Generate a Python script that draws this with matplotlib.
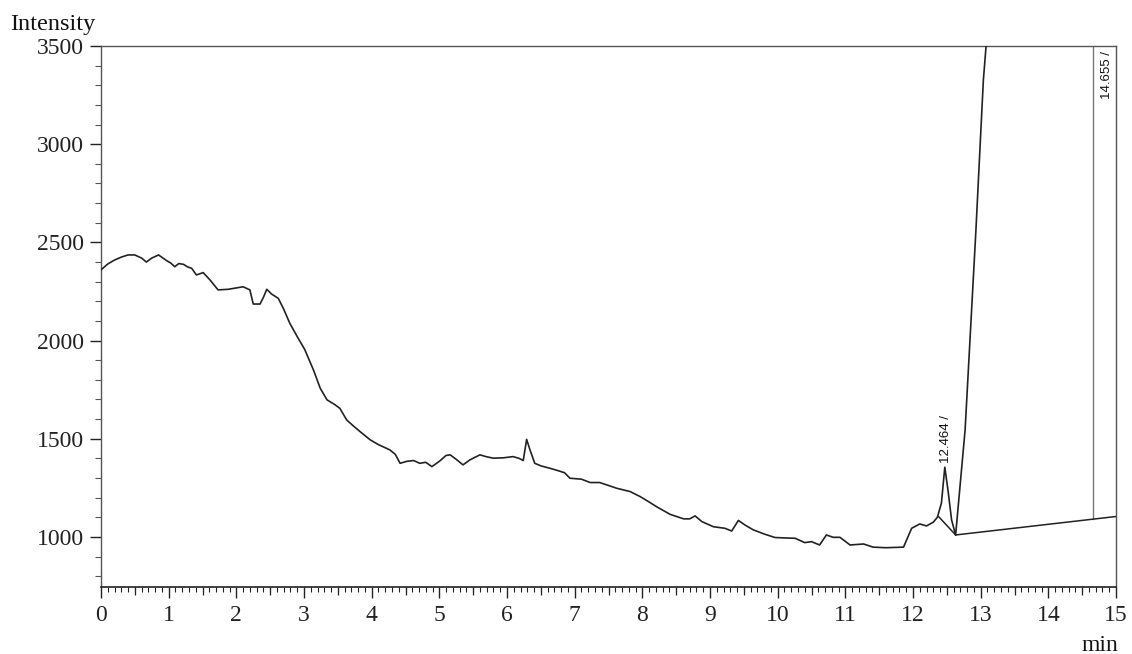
import numpy as np
import matplotlib
matplotlib.use("Agg")
import matplotlib.pyplot as plt
from matplotlib.ticker import MultipleLocator, FixedLocator

# ---- data ----
time_min = [0.00, 0.10, 0.20, 0.30, 0.40, 0.50, 0.60, 0.67, 0.75, 0.85, 0.97, 1.03, 1.09,
            1.15, 1.22, 1.28, 1.34, 1.41, 1.51, 1.61, 1.73, 1.88, 2.00, 2.10, 2.20, 2.25,
            2.35, 2.40, 2.45, 2.52, 2.62, 2.70, 2.79, 2.90, 3.01, 3.14, 3.24, 3.34, 3.45,
            3.53, 3.63, 3.73, 3.83, 3.98, 4.10, 4.27, 4.35, 4.42, 4.52, 4.62, 4.71, 4.80,
            4.89, 5.00, 5.10, 5.16, 5.25, 5.35, 5.45, 5.60, 5.70, 5.80, 5.95, 6.09, 6.18,
            6.24, 6.29, 6.34, 6.41, 6.50, 6.63, 6.75, 6.85, 6.93, 7.10, 7.23, 7.37, 7.50,
            7.62, 7.82, 7.97, 8.10, 8.21, 8.41, 8.61, 8.70, 8.78, 8.88, 9.05, 9.22, 9.32,
            9.42, 9.52, 9.64, 9.80, 9.96, 10.10, 10.26, 10.40, 10.50, 10.62, 10.72, 10.82,
            10.92, 11.07, 11.27, 11.41, 11.60, 11.86, 11.98, 12.10, 12.20, 12.30, 12.36,
            12.42, 12.47, 12.52, 12.57, 12.63, 12.77, 12.85, 12.93, 13.04, 13.08, 13.15]
intensity = [2360, 2390, 2410, 2425, 2436, 2436, 2420, 2400, 2420, 2436, 2407, 2395, 2376,
             2392, 2388, 2375, 2368, 2334, 2346, 2309, 2258, 2261, 2268, 2274, 2258, 2186,
             2186, 2220, 2261, 2237, 2215, 2160, 2088, 2020, 1955, 1850, 1757, 1698, 1675,
             1655, 1596, 1565, 1536, 1494, 1470, 1443, 1420, 1375, 1385, 1389, 1375, 1380,
             1358, 1385, 1415, 1418, 1395, 1367, 1392, 1418, 1408, 1401, 1403, 1409, 1400,
             1389, 1497, 1443, 1375, 1362, 1350, 1338, 1327, 1299, 1294, 1277, 1277, 1262,
             1248, 1231, 1205, 1178, 1154, 1115, 1092, 1092, 1107, 1078, 1052, 1044, 1030,
             1084, 1060, 1036, 1015, 997, 995, 993, 971, 976, 959, 1010, 998,
             998, 959, 964, 948, 945, 948, 1044, 1066, 1056, 1075, 1100,
             1172, 1355, 1230, 1087, 1010, 1545, 2054, 2563, 3327, 3500, 3900]

# integration baselines (time, intensity)
base1_t = [12.38, 12.63]
base1_v = [1103, 1010]
base2_t = [12.63, 15.0]
base2_v = [1010, 1104]

peak_times = [12.464, 14.655]
peak_labels = ["12.464 /", "14.655 /"]
peak_apex = [1355, 3500]

x_ticks = list(range(0, 16))
y_ticks = [1000, 1500, 2000, 2500, 3000, 3500]

# ---- figure ----
W, H = 1132, 654
fig = plt.figure(figsize=(W / 100, H / 100), dpi=100)
ax = fig.add_axes([101 / W, 1 - 587 / H, (1116 - 101) / W, (587 - 46) / H])

serif = ["Liberation Serif", "DejaVu Serif"]
ink = "#222222"
spine_c = "#555555"

ax.plot(time_min, intensity, color=ink, lw=1.2, solid_joinstyle="round", zorder=3)
ax.plot(base1_t, base1_v, color=ink, lw=1.1, zorder=3)
ax.plot(base2_t, base2_v, color=ink, lw=1.1, zorder=3)

ax.set_xlim(0, 15)
ax.set_ylim(745, 3500)

# peak marker for off-scale peak
b2 = np.interp(peak_times[1], base2_t, base2_v)
ax.plot([peak_times[1], peak_times[1]], [b2, 3500], color="#777777", lw=1.0, zorder=2)

# labels
ax.annotate(peak_labels[0], xy=(peak_times[0] + 0.02, peak_apex[0]), xytext=(0, 3),
            textcoords="offset points", rotation=90, ha="center", va="bottom",
            fontsize=9.5, family=["Liberation Sans Narrow", "Liberation Sans", "DejaVu Sans"],
            color="#111111")
ax.annotate(peak_labels[1], xy=(peak_times[1], 3500), xytext=(6, -4),
            textcoords="offset points", rotation=90, ha="left", va="top",
            fontsize=9.5, family=["Liberation Sans Narrow", "Liberation Sans", "DejaVu Sans"],
            color="#111111")

# ticks
ax.set_xticks(x_ticks)
ax.set_xticklabels([str(v) for v in x_ticks])
ax.xaxis.set_minor_locator(MultipleLocator(0.1))
ax.set_yticks(y_ticks)
ax.set_yticklabels([str(v) for v in y_ticks])
ax.yaxis.set_minor_locator(FixedLocator(list(range(800, 3500, 100))))

ax.tick_params(axis="x", which="major", direction="out", length=8, width=1.0,
               pad=5, labelsize=17, colors=ink)
ax.tick_params(axis="x", which="minor", direction="out", length=3.5, width=0.8, colors=ink)
ax.tick_params(axis="y", which="major", direction="out", length=8, width=1.0,
               pad=4, labelsize=17, colors=ink)
ax.tick_params(axis="y", which="minor", direction="out", length=4, width=0.8, colors=spine_c)
for lab in ax.get_xticklabels() + ax.get_yticklabels():
    lab.set_family(serif)

# half-minute ticks on the time axis
sec = ax.secondary_xaxis("bottom")
sec.set_xticks([v + 0.5 for v in x_ticks[:-1]])
sec.tick_params(axis="x", direction="out", length=5.5, width=0.9, labelbottom=False, colors=ink)
sec.spines["bottom"].set_visible(False)

for s in ["left", "top", "right"]:
    ax.spines[s].set_color(spine_c)
    ax.spines[s].set_linewidth(1.0)
ax.spines["bottom"].set_color(ink)
ax.spines["bottom"].set_linewidth(1.2)

fig.text(10 / W, 1 - 30 / H, "Intensity", ha="left", va="baseline",
         fontsize=17.5, family=serif, color="#111111")
fig.text(1100 / W, 1 - 651 / H, "min", ha="center", va="baseline",
         fontsize=17, family=serif, color="#111111")

fig.savefig("out.png", dpi=100, facecolor="white")
